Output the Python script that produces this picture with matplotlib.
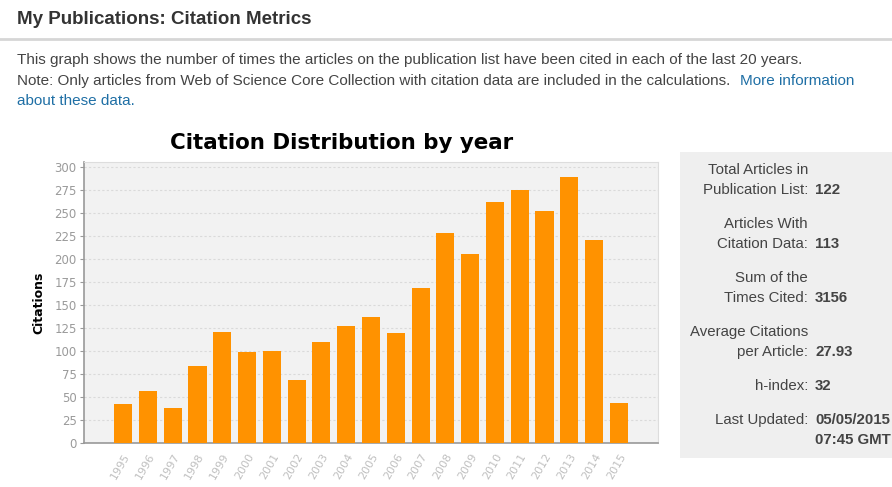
import matplotlib

matplotlib.use("Agg")
import matplotlib.pyplot as plt
from matplotlib.patches import Rectangle
from matplotlib.lines import Line2D

W, H = 892, 487

years = ["1995", "1996", "1997", "1998", "1999", "2000", "2001", "2002", "2003", "2004",
         "2005", "2006", "2007", "2008", "2009", "2010", "2011", "2012", "2013", "2014", "2015"]
citations = [42, 57, 38, 84, 121, 99, 100, 69, 110, 127,
             137, 120, 168, 228, 206, 262, 275, 252, 289, 221, 43]
y_ticks = [0, 25, 50, 75, 100, 125, 150, 175, 200, 225, 250, 275, 300]

stat_labels = [("Total Articles in", "Publication List:"),
               ("Articles With", "Citation Data:"),
               ("Sum of the", "Times Cited:"),
               ("Average Citations", "per Article:"),
               (None, "h-index:"),
               (None, "Last Updated:")]
stat_values = [["122"], ["113"], ["3156"], ["27.93"], ["32"], ["05/05/2015", "07:45 GMT"]]

ORANGE = "#ff9200"
WEB = "Liberation Sans"
TXT = "#444444"


def fx(x):
    return x / W


def fy(y):
    return 1 - y / H


fig = plt.figure(figsize=(W / 100, H / 100), dpi=100)

# page header
fig.text(fx(17), fy(19), "My Publications: Citation Metrics", family=WEB, fontsize=13.5,
         fontweight="bold", color="#333333", va="center", ha="left")
fig.add_artist(Line2D([0, 1], [fy(38.5), fy(38.5)], color="#d6d6d6", lw=2))
fig.text(fx(17), fy(60), "This graph shows the number of times the articles on the publication list "
         "have been cited in each of the last 20 years.", family=WEB, fontsize=11,
         color=TXT, va="center")
fig.text(fx(17), fy(81), "Note: Only articles from Web of Science Core Collection with citation data "
         "are included in the calculations.", family=WEB, fontsize=11, color=TXT, va="center")
fig.text(fx(740), fy(81), "More information", family=WEB, fontsize=11, color="#1f6fa5", va="center")
fig.text(fx(17), fy(101), "about these data.", family=WEB, fontsize=11, color="#1f6fa5", va="center")

# stats panel
fig.add_artist(Rectangle((fx(680), fy(458)), fx(892 - 680), (458 - 152) / H,
                         transform=fig.transFigure, facecolor="#efefef", edgecolor="none"))
rows = [170, 224, 278, 332, 386, 420]
for (top, lab), vals, y in zip(stat_labels, stat_values, rows):
    ly = y
    if top is not None:
        fig.text(fx(808), fy(y), top, family=WEB, fontsize=10.8, color=TXT, ha="right", va="center")
        ly = y + 20
    fig.text(fx(808), fy(ly), lab, family=WEB, fontsize=10.8, color=TXT, ha="right", va="center")
    for i, v in enumerate(vals):
        fig.text(fx(815), fy(ly + 20 * i), v, family=WEB, fontsize=10.8, color=TXT, ha="left",
                 va="center", fontweight="bold")

# chart
ax = fig.add_axes([fx(83.5), fy(443), (658 - 83.5) / W, (443 - 162) / H])
ax.set_facecolor("#f2f2f2")
x = list(range(len(years)))
ax.bar(x, citations, width=0.73, color=ORANGE, zorder=3)
ax.set_xlim(-1.6, len(years) - 1 + 1.58)
ax.set_ylim(0, 305.5)
ax.set_yticks(y_ticks)
ax.set_yticklabels([str(v) for v in y_ticks], color="#9a9a9a", fontsize=8.5)
ax.set_xticks(x)
ax.set_xticklabels(years, rotation=60, ha="right", rotation_mode="anchor", color="#c0c0c0", fontsize=8)
ax.tick_params(axis="x", length=0, pad=6)
ax.tick_params(axis="y", length=3, color="#999999", pad=2)
ax.grid(axis="y", color="#dadada", linestyle=(0, (2, 2)), linewidth=0.8, zorder=0)
for side in ["top", "right"]:
    ax.spines[side].set_color("#dddddd")
for side in ["left", "bottom"]:
    ax.spines[side].set_color("#999999")
    ax.spines[side].set_linewidth(1.2)
ax.set_ylabel("Citations", fontsize=9, fontweight="bold", labelpad=6)
fig.text(fx(342), fy(143), "Citation Distribution by year", fontsize=15.4, fontweight="bold",
         ha="center", va="center")

fig.savefig("out.png", dpi=100)
